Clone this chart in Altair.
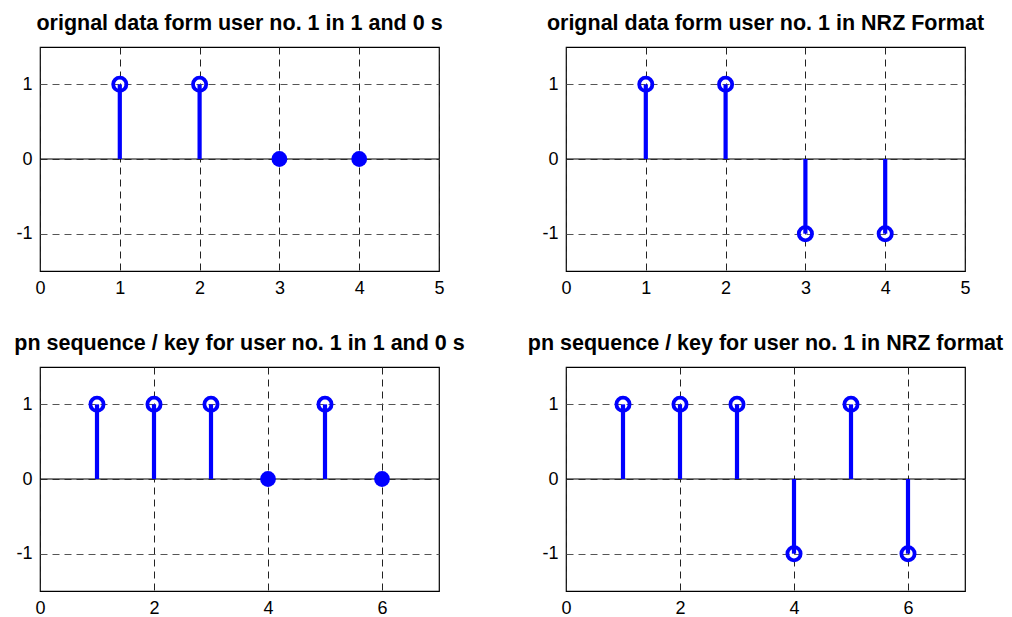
import altair as alt
import pandas as pd

# data
x_user = [1, 2, 3, 4]
user_bits = [1, 1, 0, 0]
user_nrz = [1, 1, -1, -1]
x_pn = [1, 2, 3, 4, 5, 6]
pn_bits = [1, 1, 1, 0, 1, 0]
pn_nrz = [1, 1, 1, -1, 1, -1]

titles = [
    "orignal data form user no. 1 in 1 and 0 s",
    "orignal data form user no. 1 in NRZ Format",
    "pn sequence / key for user no. 1 in 1 and 0 s",
    "pn sequence / key for user no. 1 in NRZ format",
]

BLUE = "#0000ff"
FONT = "Liberation Sans"
W, H = 399, 224


def panel(xs, vs, title, xmax, xticks):
    df = pd.DataFrame({"n": xs, "v": vs})
    xscale = alt.Scale(domain=[0, xmax], nice=False, zero=False)
    yscale = alt.Scale(domain=[-1.5, 1.5], nice=False, zero=False)
    xaxis = alt.Axis(values=xticks, labelExpr="toString(datum.value)", title=None,
                     grid=True, gridDash=[7, 5],
                     gridColor="#222", gridOpacity=1, ticks=False, domain=False,
                     labelFontSize=18, labelFont=FONT, labelColor="#000",
                     labelPadding=8, labelFlush=False)
    yaxis = alt.Axis(values=[-1, 0, 1], labelExpr="toString(datum.value)", title=None,
                     grid=True, gridDash=[7, 5],
                     gridColor="#555", gridOpacity=1, ticks=False, domain=False,
                     labelFontSize=18, labelFont=FONT, labelColor="#000",
                     labelPadding=8, labelFlush=False)
    base = alt.Chart(df)
    stems = base.mark_rule(color=BLUE, strokeWidth=4.2).encode(
        x=alt.X("n:Q", scale=xscale, axis=xaxis),
        y=alt.Y("v:Q", scale=yscale, axis=yaxis),
        y2=alt.datum(0),
    )
    baseline = alt.Chart(pd.DataFrame({"z": [0]})).mark_rule(
        color="#000", strokeWidth=1.2
    ).encode(y=alt.Y("z:Q", scale=yscale))
    open_pts = base.transform_filter("datum.v != 0").mark_point(
        shape="circle", filled=False, size=175, strokeWidth=3.8, color=BLUE, opacity=1
    ).encode(x=alt.X("n:Q", scale=xscale), y=alt.Y("v:Q", scale=yscale))
    zero_pts = base.transform_filter("datum.v == 0").mark_point(
        shape="circle", filled=True, size=250, color=BLUE, opacity=1
    ).encode(x=alt.X("n:Q", scale=xscale), y=alt.Y("v:Q", scale=yscale))
    return alt.layer(baseline, stems, open_pts, zero_pts).properties(
        width=W, height=H,
        title=alt.TitleParams(title, font=FONT, fontSize=21.5, fontWeight="bold",
                              color="#000", offset=13, anchor="middle"),
    )


p1 = panel(x_user, user_bits, titles[0], 5, [0, 1, 2, 3, 4, 5])
p2 = panel(x_user, user_nrz, titles[1], 5, [0, 1, 2, 3, 4, 5])
p3 = panel(x_pn, pn_bits, titles[2], 7, [0, 2, 4, 6])
p4 = panel(x_pn, pn_nrz, titles[3], 7, [0, 2, 4, 6])

chart = alt.concat(p1, p2, p3, p4, columns=2, spacing={"row": 96, "column": 127},
                   bounds="flush").properties(
    padding={"left": 5, "top": 3, "right": 0, "bottom": 12},
    background="white",
).configure_view(stroke="#000", strokeWidth=1.2)

chart.save("out.html", embed_options={"renderer": "svg", "actions": False})
